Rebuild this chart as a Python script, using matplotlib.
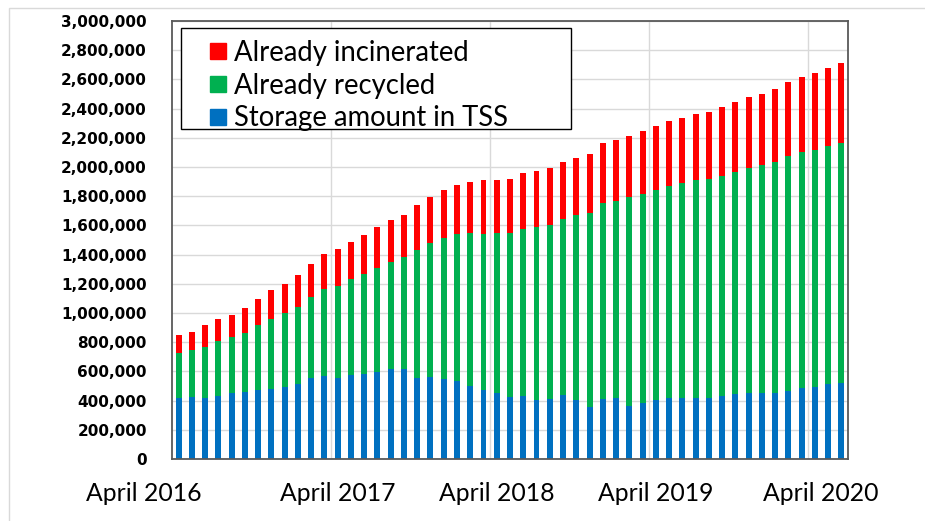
import matplotlib
matplotlib.use("Agg")
import matplotlib.pyplot as plt
from matplotlib.lines import Line2D
from matplotlib.patches import Rectangle
from matplotlib.ticker import FuncFormatter
import matplotlib.transforms as mtransforms
import numpy as np

# ---- data (values, in units) : April 2016 .. June 2020, monthly ----
storage_tss = [418, 427, 418, 434, 452, 457, 475, 477, 495, 511, 552, 571,
               556, 578, 584, 596, 614, 616, 557, 559, 546, 534, 502, 473,
               454, 424, 431, 404, 411, 438, 402, 358, 409, 416, 363, 381,
               402, 416, 418, 420, 416, 434, 443, 450, 450, 454, 466, 484,
               493, 511, 523]
already_recycled = [306, 320, 351, 374, 381, 408, 445, 484, 505, 530, 560, 591,
                    631, 657, 685, 714, 735, 765, 874, 918, 970, 1005, 1044, 1068,
                    1092, 1122, 1144, 1185, 1189, 1208, 1269, 1329, 1347, 1351, 1429, 1436,
                    1440, 1454, 1472, 1489, 1502, 1507, 1525, 1543, 1561, 1582, 1609, 1616,
                    1621, 1633, 1644]
already_incinerated = [123, 125, 146, 151, 156, 167, 178, 194, 201, 217, 226, 240,
                       248, 251, 267, 281, 288, 292, 306, 320, 329, 340, 353, 368,
                       365, 374, 384, 384, 391, 386, 391, 404, 406, 418, 420, 432,
                       436, 443, 449, 456, 456, 468, 475, 484, 491, 500, 507, 516,
                       527, 532, 547]
unit = 1000  # values above are in thousands

series_labels = ["Storage amount in TSS", "Already recycled", "Already incinerated"]
series_colors = ["#0070c0", "#00b050", "#ff0000"]
tick_month_index = [0, 12, 24, 36, 48]
tick_labels = ["April 2016", "April 2017", "April 2018", "April 2019", "April 2020"]
ytick_values = list(range(0, 3000001, 200000))

# ---- figure ----
W, H = 925, 521
fig = plt.figure(figsize=(W / 100, H / 100), dpi=100)
fig.patch.set_facecolor("white")

# slide border
fig.patches.append(Rectangle((9 / W, -0.2), 1.2, 1.2 - 8 / H, transform=fig.transFigure,
                             fill=False, edgecolor="#d9d9d9", linewidth=1.0))

ax = fig.add_axes([172 / W, 62 / H, 676 / W, 438 / H])

n = len(storage_tss)
x = np.arange(n)
s = np.array(storage_tss) * unit
r = np.array(already_recycled) * unit
inc = np.array(already_incinerated) * unit

bw = 0.45
ax.bar(x, s, width=bw, color=series_colors[0], zorder=3, linewidth=0)
ax.bar(x, r, width=bw, bottom=s, color=series_colors[1], zorder=3, linewidth=0)
ax.bar(x, inc, width=bw, bottom=s + r, color=series_colors[2], zorder=3, linewidth=0)

ax.set_xlim(-0.5, n - 0.5)
ax.set_ylim(0, 3000000)
ax.set_yticks(ytick_values)
ax.yaxis.set_major_formatter(FuncFormatter(lambda v, p: f"{int(v):,}"))
ax.yaxis.grid(True, color="#d9d9d9", linewidth=1.0, zorder=0)
ax.set_axisbelow(True)
for m in tick_month_index[1:]:
    ax.axvline(m - 0.5, color="#d9d9d9", linewidth=1.0, zorder=0)

ax.set_xticks([])
ax.tick_params(axis="y", length=0, pad=18)
for lab in ax.get_yticklabels():
    lab.set_fontfamily("DejaVu Sans")
    lab.set_fontweight("bold")
    lab.set_fontsize(11)
    lab.set_color("black")

for sp in ax.spines.values():
    sp.set_color("#595959")
    sp.set_linewidth(1.3)
    sp.set_zorder(4)

# x labels (month markers)
label_shift_px = [-35, 0, 0, 0, 6]
trans = mtransforms.blended_transform_factory(ax.transData, ax.transAxes)
for m, t, dx in zip(tick_month_index, tick_labels, label_shift_px):
    tr = mtransforms.offset_copy(trans, fig=fig, x=dx, y=0, units="dots")
    ax.text(m, -42 / 438, t, transform=tr, ha="center", va="baseline",
            fontsize=17.8, family="Lato", color="black", clip_on=False)

# legend box
box = Rectangle(((181 - 172) / 676, (459 - 129) / 438), (571 - 181) / 676, (129 - 28) / 438,
                transform=ax.transAxes, facecolor="white", edgecolor="black",
                linewidth=1.0, zorder=5)
ax.add_patch(box)

handles = [Line2D([], [], marker="s", linestyle="none", markersize=11.5,
                  markerfacecolor=c, markeredgecolor=c)
           for c in series_colors]
order = [2, 1, 0]
leg = ax.legend([handles[i] for i in order], [series_labels[i] for i in order],
                loc="upper left", bbox_to_anchor=((210 - 172) / 676, (459 - 40) / 438),
                frameon=False, borderpad=0, borderaxespad=0,
                handlelength=0.58, handletextpad=0.29, labelspacing=0.24,
                prop={"family": "Lato", "size": 19.8})
leg.set_zorder(6)

fig.savefig("out.png", dpi=100)
